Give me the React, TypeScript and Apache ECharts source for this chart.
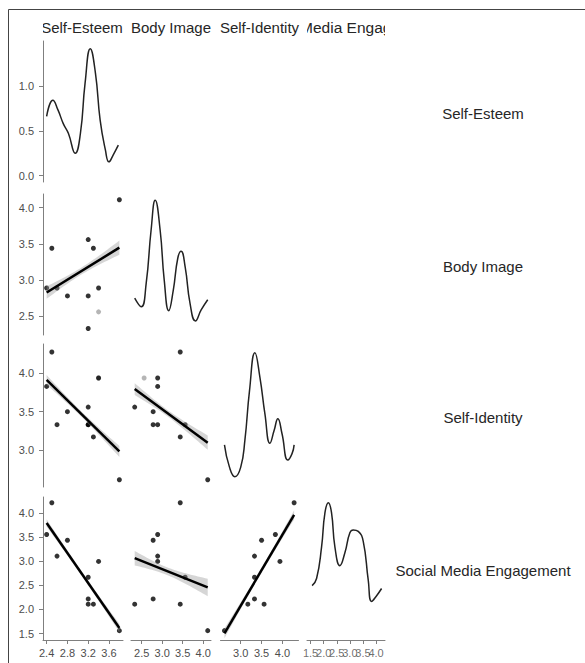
import React, { useEffect, useRef } from "react";
import * as echarts from "echarts";

// ---------------- data ----------------
const VAR_NAMES = ["Self-Esteem", "Body Image", "Self-Identity", "Social Media Engagement"];

// one entry per respondent (last one is an incomplete record, drawn grey)
const SELF_ESTEEM = [3.8, 2.5, 2.4, 2.8, 2.6, 3.4, 3.2, 3.2, 3.2, 3.3, 3.4];
const BODY_IMAGE = [4.11, 3.44, 2.89, 2.78, 2.89, 2.89, 3.56, 2.78, 2.33, 3.44, 2.56];
const SELF_IDENTITY = [2.61, 4.28, 3.83, 3.5, 3.33, 3.94, 3.33, 3.33, 3.56, 3.17, 3.94];
const SOCIAL_MEDIA = [1.56, 4.22, 3.56, 3.44, 3.11, 3.0, 2.67, 2.22, 2.11, 2.11, null];
const INCOMPLETE = [false, false, false, false, false, false, false, false, false, false, true];

// tick labels
const TICKS_X = [
  [2.4, 2.8, 3.2, 3.6],
  [2.5, 3.0, 3.5, 4.0],
  [3.0, 3.5, 4.0],
  [1.5, 2.0, 2.5, 3.0, 3.5, 4.0],
];
const TICKS_Y = [
  [0.0, 0.5, 1.0],
  [2.5, 3.0, 3.5, 4.0],
  [3.0, 3.5, 4.0],
  [1.5, 2.0, 2.5, 3.0, 3.5, 4.0],
];

// density curves
const DENS_SE_X = [2.4, 2.52, 2.62, 2.72, 2.82, 2.95, 3.05, 3.14, 3.24, 3.34, 3.43, 3.53, 3.6, 3.68, 3.78];
const DENS_SE_Y = [0.66, 0.84, 0.73, 0.58, 0.47, 0.25, 0.47, 1.03, 1.415, 1.14, 0.62, 0.29, 0.155, 0.23, 0.34];
const DENS_BI_X = [2.33, 2.49, 2.61, 2.73, 2.83, 2.95, 3.05, 3.16, 3.27, 3.38, 3.46, 3.56, 3.68, 3.81, 3.95, 4.11];
const DENS_BI_Y = [0.47, 0.36, 0.66, 1.34, 1.72, 1.34, 0.7, 0.31, 0.57, 0.98, 1.07, 0.87, 0.4, 0.18, 0.32, 0.45];
const DENS_SI_X = [2.61, 2.73, 2.86, 3.0, 3.1, 3.21, 3.34, 3.46, 3.58, 3.7, 3.8, 3.89, 3.99, 4.13, 4.23, 4.28];
const DENS_SI_Y = [0.53, 0.25, 0.13, 0.25, 0.59, 1.21, 1.69, 1.38, 0.92, 0.55, 0.71, 0.86, 0.67, 0.34, 0.42, 0.53];
const DENS_SME_X = [1.56, 1.73, 1.92, 2.05, 2.18, 2.3, 2.43, 2.62, 2.81, 3.0, 3.13, 3.32, 3.51, 3.7, 3.83, 4.02, 4.21];
const DENS_SME_Y = [0.38, 0.43, 0.65, 0.89, 0.96, 0.89, 0.65, 0.52, 0.61, 0.75, 0.77, 0.76, 0.69, 0.42, 0.27, 0.31, 0.36];

// ---------------- layout / style ----------------
const COL_LEFT = [43, 131, 220.5, 307];
const COL_W = [80, 80, 78, 78];
const ROW_TOP = [41, 194, 344, 497];
const ROW_H = [141, 141, 143, 143];
const COL_RANGE = [
  [2.33, 3.87],
  [2.24, 4.19],
  [2.515, 4.385],
  [1.365, 4.34],
];
const ROW_RANGE = [
  [-0.07, 1.5],
  [2.24, 4.19],
  [2.515, 4.385],
  [1.365, 4.34],
];
const DIAG_Y_RANGE = [
  [-0.07, 1.5],
  [0, 1.8],
  [0, 1.8],
  [0, 1.0],
];
const BAND_SCALE = 0.3;
const FONT = '"Liberation Sans", Arial, sans-serif';
const AXIS_COLOR = "#7f7f7f";
const LABEL_COLOR = "#4d4d4d";
const STRIP_COLOR = "#262626";

const VARS = [SELF_ESTEEM, BODY_IMAGE, SELF_IDENTITY, SOCIAL_MEDIA];
const DENS = [
  [DENS_SE_X, DENS_SE_Y],
  [DENS_BI_X, DENS_BI_Y],
  [DENS_SI_X, DENS_SI_Y],
  [DENS_SME_X, DENS_SME_Y],
];

function fitLine(xs: (number | null)[], ys: (number | null)[]) {
  const px: number[] = [];
  const py: number[] = [];
  xs.forEach((x, idx) => {
    const y = ys[idx];
    if (x != null && y != null && !INCOMPLETE[idx]) {
      px.push(x);
      py.push(y);
    }
  });
  const n = px.length;
  const mx = px.reduce((a, b) => a + b, 0) / n;
  const my = py.reduce((a, b) => a + b, 0) / n;
  let sxx = 0;
  let sxy = 0;
  for (let i = 0; i < n; i++) {
    sxx += (px[i] - mx) ** 2;
    sxy += (px[i] - mx) * (py[i] - my);
  }
  const b = sxy / sxx;
  const a = my - b * mx;
  let sse = 0;
  for (let i = 0; i < n; i++) sse += (py[i] - (a + b * px[i])) ** 2;
  const s = Math.sqrt(sse / (n - 2));
  return { a, b, s, n, mx, sxx, xmin: Math.min(...px), xmax: Math.max(...px) };
}

function buildOption() {
  const grid: any[] = [];
  const xAxis: any[] = [];
  const yAxis: any[] = [];
  const series: any[] = [];
  let k = 0;
  for (let i = 0; i < 4; i++) {
    for (let j = 0; j <= i; j++) {
      const diag = i === j;
      // the crowded last column gets its tick labels from a label-only series,
      // so that none of them is dropped by the axis' overlap handling
      const labelsBySeries = i === 3 && j === 3;
      grid.push({ left: COL_LEFT[j], top: ROW_TOP[i], width: COL_W[j], height: ROW_H[i], containLabel: false });
      xAxis.push({
        gridIndex: k,
        type: "value",
        min: COL_RANGE[j][0],
        max: COL_RANGE[j][1],
        show: i === 3,
        axisLine: { show: true, onZero: false, lineStyle: { color: AXIS_COLOR, width: 1 } },
        axisTick: { show: true, length: 4, customValues: TICKS_X[j], lineStyle: { color: AXIS_COLOR } },
        axisLabel: {
          show: !labelsBySeries,
          customValues: TICKS_X[j],
          formatter: (v: number) => v.toFixed(1),
          color: LABEL_COLOR,
          fontSize: 11,
          fontFamily: FONT,
          margin: 7,
          hideOverlap: false,
          interval: 0,
          showMinLabel: true,
          showMaxLabel: true,
        },
        splitLine: { show: false },
      });
      const yr = diag ? DIAG_Y_RANGE[i] : ROW_RANGE[i];
      yAxis.push({
        gridIndex: k,
        type: "value",
        min: yr[0],
        max: yr[1],
        show: j === 0,
        axisLine: { show: true, onZero: false, lineStyle: { color: AXIS_COLOR, width: 1 } },
        axisTick: { show: true, length: 4, customValues: TICKS_Y[i], lineStyle: { color: AXIS_COLOR } },
        axisLabel: {
          customValues: TICKS_Y[i],
          formatter: (v: number) => v.toFixed(1),
          color: LABEL_COLOR,
          fontSize: 11,
          fontFamily: FONT,
          margin: 9,
          hideOverlap: false,
          showMinLabel: true,
          showMaxLabel: true,
        },
        splitLine: { show: false },
      });

      if (labelsBySeries) {
        series.push({
          type: "scatter",
          xAxisIndex: k,
          yAxisIndex: k,
          data: TICKS_X[j].map((v) => [v, yr[0]]),
          symbolSize: 0,
          silent: true,
          clip: false,
          label: {
            show: true,
            position: "bottom",
            distance: 7,
            formatter: (p: any) => p.value[0].toFixed(1),
            color: LABEL_COLOR,
            fontSize: 11,
            fontFamily: FONT,
          },
          labelLayout: { hideOverlap: false },
        });
      }

      if (diag) {
        const [dx, dy] = DENS[i];
        series.push({
          type: "line",
          xAxisIndex: k,
          yAxisIndex: k,
          data: dx.map((x, idx) => [x, dy[idx]]),
          smooth: true,
          symbol: "none",
          lineStyle: { color: "#222", width: 1.5 },
          silent: true,
        });
      } else {
        const xs = VARS[j];
        const ys = VARS[i];
        const grey: number[][] = [];
        const black: number[][] = [];
        xs.forEach((x, idx) => {
          const y = ys[idx];
          if (x == null || y == null) return;
          (INCOMPLETE[idx] ? grey : black).push([x, y]);
        });
        series.push({
          type: "scatter",
          xAxisIndex: k,
          yAxisIndex: k,
          data: grey,
          symbolSize: 5,
          itemStyle: { color: "#a3a3a3" },
          silent: true,
          z: 2,
        });
        series.push({
          type: "scatter",
          xAxisIndex: k,
          yAxisIndex: k,
          data: black,
          symbolSize: 5,
          itemStyle: { color: "#000" },
          silent: true,
          z: 3,
        });
        const f = fitLine(xs, ys);
        const steps = 30;
        const upper: number[][] = [];
        const lower: number[][] = [];
        for (let t = 0; t <= steps; t++) {
          const x = f.xmin + ((f.xmax - f.xmin) * t) / steps;
          const yhat = f.a + f.b * x;
          const se = f.s * Math.sqrt(1 / f.n + (x - f.mx) ** 2 / f.sxx);
          upper.push([x, yhat + BAND_SCALE * se]);
          lower.push([x, yhat - BAND_SCALE * se]);
        }
        const poly = upper.concat(lower.reverse());
        series.push({
          type: "custom",
          xAxisIndex: k,
          yAxisIndex: k,
          data: [[f.xmin, f.a + f.b * f.xmin]],
          silent: true,
          z: 4,
          renderItem: (_p: any, api: any) => ({
            type: "polygon",
            shape: { points: poly.map((p) => api.coord(p)) },
            style: { fill: "rgba(153,153,153,0.4)", stroke: "none" },
          }),
        });
        series.push({
          type: "line",
          xAxisIndex: k,
          yAxisIndex: k,
          data: [
            [f.xmin, f.a + f.b * f.xmin],
            [f.xmax, f.a + f.b * f.xmax],
          ],
          symbol: "none",
          lineStyle: { color: "#000", width: 2.5 },
          silent: true,
          z: 5,
        });
      }
      k++;
    }
  }

  const graphic: any[] = [];
  // frame
  graphic.push({ type: "line", shape: { x1: 8.5, y1: 9.5, x2: 585, y2: 9.5 }, style: { stroke: "#444", lineWidth: 1 }, z: 20 });
  graphic.push({ type: "line", shape: { x1: 8.5, y1: 9.5, x2: 8.5, y2: 663 }, style: { stroke: "#444", lineWidth: 1 }, z: 20 });
  // column strips (top), clipped to their panel
  const stripY = 27;
  graphic.push({
    type: "text",
    x: COL_LEFT[3] + COL_W[3] / 2 - 2,
    y: stripY,
    z: 1,
    style: { text: VAR_NAMES[3], fontSize: 15.5, fontFamily: FONT, fill: STRIP_COLOR, textAlign: "center", textVerticalAlign: "middle", verticalAlign: "middle" },
  });
  graphic.push({ type: "rect", shape: { x: 9, y: 12, width: COL_LEFT[3] - 9, height: 28 }, style: { fill: "#fff" }, z: 2 });
  graphic.push({ type: "rect", shape: { x: COL_LEFT[3] + COL_W[3], y: 12, width: 200, height: 28 }, style: { fill: "#fff" }, z: 2 });
  for (let j = 0; j < 3; j++) {
    graphic.push({
      type: "text",
      x: COL_LEFT[j] + COL_W[j] / 2 - (j === 0 ? 1 : 0),
      y: stripY,
      z: 3,
      style: { text: VAR_NAMES[j], fontSize: 15, fontFamily: FONT, fill: STRIP_COLOR, textAlign: "center", textVerticalAlign: "middle", verticalAlign: "middle" },
    });
  }
  graphic.push({ type: "rect", shape: { x: 9, y: 12, width: COL_LEFT[0] - 9, height: 28 }, style: { fill: "#fff" }, z: 4 });
  // row strips (right)
  for (let i = 0; i < 4; i++) {
    graphic.push({
      type: "text",
      x: 483,
      y: ROW_TOP[i] + ROW_H[i] / 2 + 2,
      z: 3,
      style: { text: VAR_NAMES[i], fontSize: 15, fontFamily: FONT, fill: STRIP_COLOR, textAlign: "center", textVerticalAlign: "middle", verticalAlign: "middle" },
    });
  }

  return {
    animation: false,
    backgroundColor: "#fff",
    grid,
    xAxis,
    yAxis,
    series,
    graphic,
  };
}

export default function App() {
  const ref = useRef<HTMLDivElement | null>(null);
  useEffect(() => {
    if (!ref.current) return;
    const chart = echarts.init(ref.current, undefined, { renderer: "svg" });
    chart.setOption(buildOption() as any);
    return () => chart.dispose();
  }, []);
  return (
    <div
      ref={ref}
      style={{ position: "fixed", left: 0, top: 0, width: 585, height: 663, background: "#fff" }}
    />
  );
}
